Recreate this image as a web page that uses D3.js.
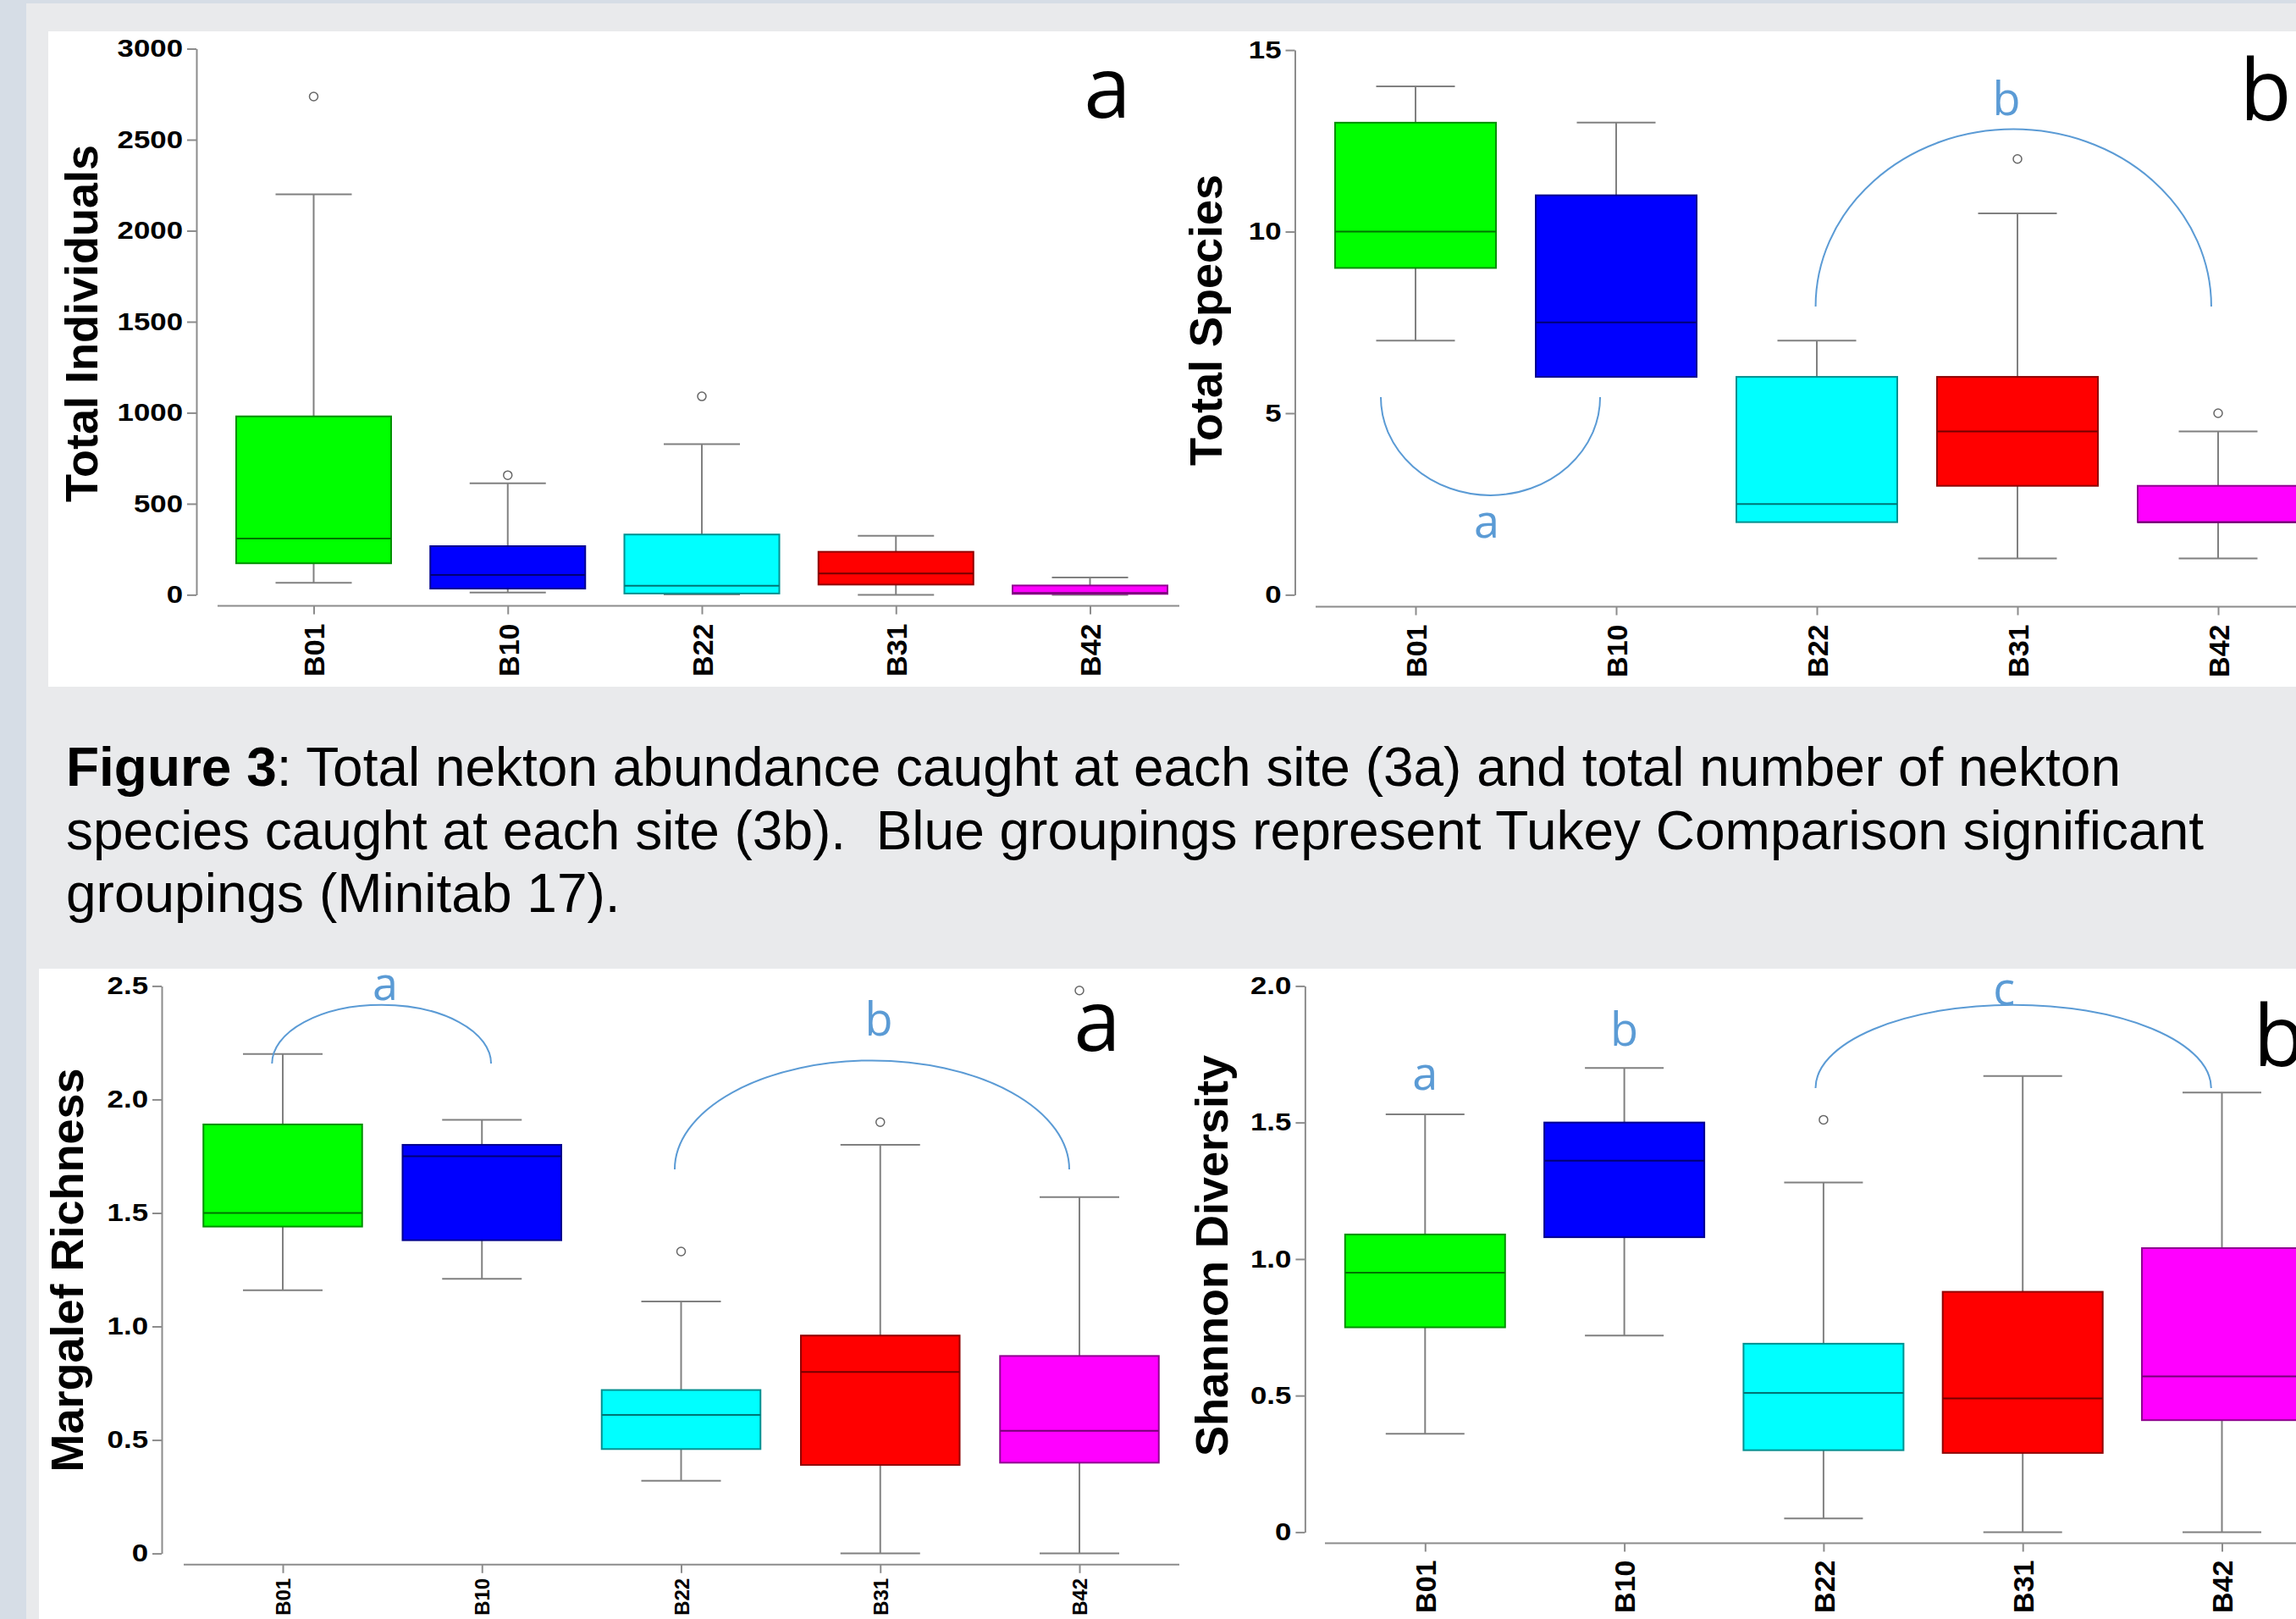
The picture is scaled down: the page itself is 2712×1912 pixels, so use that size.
<!DOCTYPE html>
<html>
<head>
<meta charset="utf-8">
<script src="https://d3js.org/d3.v7.min.js"></script>
<style>
  body { margin: 0; background: #e9eaec; }
  svg { display: block; }
  .axis path, .axis line { stroke: #8c8c8c; stroke-width: 2; fill: none; }
  .axis text { font-family: "Liberation Sans", Arial, sans-serif; font-weight: bold; fill: #000; }
  .ylabel { font-family: "Liberation Sans", Arial, sans-serif; font-weight: bold; font-size: 54px; fill: #000; }
  .caption { font-family: "Liberation Sans", Arial, sans-serif; font-size: 64px; fill: #000; white-space: pre; }
  .group { font-family: "Open Sans", sans-serif; font-size: 54px; fill: #5b9bd5; }
  .letter { font-family: "Open Sans", sans-serif; font-size: 100px; fill: #000; }
</style>
</head>
<body>
<script>
var sites = ["B01", "B10", "B22", "B31", "B42"];
var siteColors = ["#00ff00", "#0000ff", "#00ffff", "#ff0000", "#ff00ff"];

// rows: [min whisker, Q1, median, Q3, max whisker]
var abundance = [
  [66, 173, 309, 980, 2200],
  [12, 34, 109, 267, 613],
  [2, 7, 49, 331, 827],
  [0, 56, 117, 236, 324],
  [0, 5, 10, 51, 95]
];
var abundanceOutliers = [[2737], [657], [1090], [], []];
var abundanceTicks = [0, 500, 1000, 1500, 2000, 2500, 3000];
var abundanceTickLabels = ["0", "500", "1000", "1500", "2000", "2500", "3000"];

var species = [
  [7, 9, 10, 13, 14],
  [6, 6, 7.5, 11, 13],
  [2, 2, 2.5, 6, 7],
  [1, 3, 4.5, 6, 10.5],
  [1, 2, 2, 3, 4.5]
];
var speciesOutliers = [[], [], [], [12], [5]];
var speciesTicks = [0, 5, 10, 15];
var speciesTickLabels = ["0", "5", "10", "15"];

var margalef = [
  [1.16, 1.44, 1.50, 1.89, 2.20],
  [1.21, 1.38, 1.75, 1.80, 1.91],
  [0.32, 0.46, 0.61, 0.72, 1.11],
  [0, 0.39, 0.80, 0.96, 1.80],
  [0, 0.40, 0.54, 0.87, 1.57]
];
var margalefOutliers = [[], [], [1.33], [1.90], [2.48]];
var margalefTicks = [0, 0.5, 1.0, 1.5, 2.0, 2.5];
var margalefTickLabels = ["0", "0.5", "1.0", "1.5", "2.0", "2.5"];

var shannon = [
  [0.36, 0.75, 0.95, 1.09, 1.53],
  [0.72, 1.08, 1.36, 1.50, 1.70],
  [0.05, 0.30, 0.51, 0.69, 1.28],
  [0, 0.29, 0.49, 0.88, 1.67],
  [0, 0.41, 0.57, 1.04, 1.61]
];
var shannonOutliers = [[], [], [1.51], [], []];
var shannonTicks = [0, 0.5, 1.0, 1.5, 2.0];
var shannonTickLabels = ["0", "0.5", "1.0", "1.5", "2.0"];

// Tukey groupings: span in site-index units, y in data units
var speciesGroups = [
  {from: -0.173, to: 0.92, base: 5.44, peak: 2.74, label: "a", lx: 0.354, ly: 1.57},
  {from: 1.994, to: 3.966, base: 7.94, peak: 12.82, label: "b", lx: 2.945, ly: 13.2}
];
var margalefGroups = [
  {from: -0.054, to: 1.046, base: 2.158, peak: 2.417, label: "a", lx: 0.514, ly: 2.438},
  {from: 1.968, to: 3.949, base: 1.692, peak: 2.172, label: "b", lx: 2.993, ly: 2.281}
];
var shannonGroups = [
  {from: null, label: "a", lx: 0, ly: 1.62},
  {from: null, label: "b", lx: 1.0, ly: 1.781},
  {from: 1.96, to: 3.946, base: 1.626, peak: 1.931, label: "c", lx: 2.906, ly: 1.93}
];

var W = 2712, H = 1912;

var svg = d3.select("body").append("svg")
    .attr("width", W)
    .attr("height", H);

// page background
svg.append("rect").attr("width", W).attr("height", H).attr("fill", "#e9eaec");
svg.append("rect").attr("width", 31).attr("height", H).attr("fill", "#d6dde6");
svg.append("rect").attr("width", W).attr("height", 4).attr("fill", "#d6dde6");
svg.append("rect").attr("x", 57).attr("y", 37).attr("width", W - 57).attr("height", 774).attr("fill", "#fff");
svg.append("rect").attr("x", 46).attr("y", 1144).attr("width", W - 46).attr("height", H - 1144).attr("fill", "#fff");

var panels = [
  {stats: abundance, outliers: abundanceOutliers, ticks: abundanceTicks, tickLabels: abundanceTickLabels,
   groups: [], title: "Total Individuals", letter: "a",
   ymax: 3000, yAxisX: 232, y0: 702.4, y1: 57.5, xAxisY: 715.5, xLine: [257, 1393],
   c0: 370.5, c4: 1287.5, boxW: 183, capW: 90, xFont: 34, xOff: 21,
   labelX: 115, labelY: 382, letterX: 1308, letterY: 139},
  {stats: species, outliers: speciesOutliers, ticks: speciesTicks, tickLabels: speciesTickLabels,
   groups: speciesGroups, title: "Total Species", letter: "b",
   ymax: 15, yAxisX: 1529.5, y0: 702.4, y1: 59.1, xAxisY: 716.5, xLine: [1554, 2712],
   c0: 1672, c4: 2620, boxW: 190, capW: 93, xFont: 34, xOff: 21,
   labelX: 1443, labelY: 378, letterX: 2676, letterY: 142},
  {stats: margalef, outliers: margalefOutliers, ticks: margalefTicks, tickLabels: margalefTickLabels,
   groups: margalefGroups, title: "Margalef Richness", letter: "a",
   ymax: 2.5, yAxisX: 191, y0: 1834.6, y1: 1164.4, xAxisY: 1847.8, xLine: [217, 1393],
   c0: 334, c4: 1275, boxW: 187.5, capW: 94, xFont: 24, xOff: 16,
   labelX: 98, labelY: 1500, letterX: 1296, letterY: 1241},
  {stats: shannon, outliers: shannonOutliers, ticks: shannonTicks, tickLabels: shannonTickLabels,
   groups: shannonGroups, title: "Shannon Diversity", letter: "b",
   ymax: 2.0, yAxisX: 1541.4, y0: 1809.4, y1: 1164.4, xAxisY: 1822.5, xLine: [1565, 2712],
   c0: 1683.3, c4: 2624.5, boxW: 189, capW: 93, xFont: 34, xOff: 20,
   labelX: 1450, labelY: 1483, letterX: 2692, letterY: 1259}
];

panels.forEach(drawPanel);

function drawPanel(p) {
  var y = d3.scaleLinear().domain([0, p.ymax]).range([p.y0, p.y1]);
  var x = d3.scalePoint().domain(sites).range([p.c0, p.c4]);
  var xi = d3.scaleLinear().domain([0, sites.length - 1]).range([p.c0, p.c4]);
  var g = svg.append("g");

  // y axis, labels a bit wider than the plain font
  g.append("g")
      .attr("class", "axis")
      .attr("transform", "translate(" + p.yAxisX + ",0)")
      .call(d3.axisLeft(y)
          .tickValues(p.ticks)
          .tickFormat(function(d, i) { return p.tickLabels[i]; })
          .tickSize(11).tickPadding(5).tickSizeOuter(0))
      .selectAll("text")
        .style("font-size", "29px")
        .each(function() {
          var w = this.getComputedTextLength();
          d3.select(this).attr("textLength", w * 1.2).attr("lengthAdjust", "spacingAndGlyphs");
        });

  // x axis
  var xa = g.append("g")
      .attr("class", "axis")
      .attr("transform", "translate(0," + p.xAxisY + ")")
      .call(d3.axisBottom(x).tickSize(10).tickSizeOuter(0));
  xa.select(".domain").attr("d", "M" + p.xLine[0] + ",0H" + p.xLine[1]);
  xa.selectAll("text")
      .attr("transform", "rotate(-90)")
      .attr("x", -p.xOff)
      .attr("y", 0)
      .attr("dy", "0.36em")
      .style("text-anchor", "end")
      .style("font-size", p.xFont + "px");

  // y label
  g.append("text")
      .attr("class", "ylabel")
      .attr("transform", "translate(" + p.labelX + "," + p.labelY + ") rotate(-90)")
      .attr("text-anchor", "middle")
      .text(p.title);

  var box = g.selectAll(".box")
      .data(p.stats)
      .enter().append("g")
      .attr("class", "box");

  // whiskers
  box.each(function(s, i) {
    var b = d3.select(this), cx = x(sites[i]);
    if (s[4] > s[3]) {
      b.append("line").attr("x1", cx).attr("x2", cx).attr("y1", y(s[3])).attr("y2", y(s[4]));
      b.append("line").attr("x1", cx - p.capW / 2).attr("x2", cx + p.capW / 2).attr("y1", y(s[4])).attr("y2", y(s[4]));
    }
    if (s[0] < s[1]) {
      b.append("line").attr("x1", cx).attr("x2", cx).attr("y1", y(s[1])).attr("y2", y(s[0]));
      b.append("line").attr("x1", cx - p.capW / 2).attr("x2", cx + p.capW / 2).attr("y1", y(s[0])).attr("y2", y(s[0]));
    }
  });
  box.selectAll("line").attr("stroke", "#808080").attr("stroke-width", 2);

  box.append("rect")
      .attr("x", function(s, i) { return x(sites[i]) - p.boxW / 2; })
      .attr("y", function(s) { return y(s[3]); })
      .attr("width", p.boxW)
      .attr("height", function(s) { return y(s[1]) - y(s[3]); })
      .attr("fill", function(s, i) { return siteColors[i]; })
      .attr("stroke", function(s, i) { return d3.color(siteColors[i]).darker(1.6); })
      .attr("stroke-width", 2);

  box.append("line")
      .attr("x1", function(s, i) { return x(sites[i]) - p.boxW / 2; })
      .attr("x2", function(s, i) { return x(sites[i]) + p.boxW / 2; })
      .attr("y1", function(s) { return y(s[2]); })
      .attr("y2", function(s) { return y(s[2]); })
      .attr("stroke", function(s, i) { return d3.color(siteColors[i]).darker(2.2); })
      .attr("stroke-width", 2);

  // outliers
  p.outliers.forEach(function(list, i) {
    g.selectAll(null)
        .data(list)
        .enter().append("circle")
        .attr("cx", x(sites[i]))
        .attr("cy", function(d) { return y(d); })
        .attr("r", 5)
        .attr("fill", "none")
        .attr("stroke", "#666")
        .attr("stroke-width", 1.5);
  });

  // Tukey grouping arcs and letters
  p.groups.forEach(function(gr) {
    if (gr.from !== null) {
      var xa0 = xi(gr.from), xa1 = xi(gr.to);
      var yb = y(gr.base), yp = y(gr.peak);
      var rx = (xa1 - xa0) / 2, ry = Math.abs(yb - yp);
      var sweep = yp < yb ? 1 : 0;
      g.append("path")
          .attr("d", "M" + xa0 + "," + yb + "A" + rx + "," + ry + " 0 0 " + sweep + " " + xa1 + "," + yb)
          .attr("fill", "none")
          .attr("stroke", "#5b9bd5")
          .attr("stroke-width", 2);
    }
    g.append("text")
        .attr("class", "group")
        .attr("x", xi(gr.lx))
        .attr("y", y(gr.ly))
        .attr("text-anchor", "middle")
        .text(gr.label);
  });

  g.append("text")
      .attr("class", "letter")
      .attr("x", p.letterX)
      .attr("y", p.letterY)
      .attr("text-anchor", "middle")
      .text(p.letter);
}

// caption
var cap = svg.append("g");
var l1 = cap.append("text").attr("class", "caption").attr("x", 78).attr("y", 928)
    .attr("textLength", 2427).attr("lengthAdjust", "spacingAndGlyphs");
l1.append("tspan").style("font-weight", "bold").text("Figure 3");
l1.append("tspan").text(": Total nekton abundance caught at each site (3a) and total number of nekton");
cap.append("text").attr("class", "caption").attr("x", 78).attr("y", 1003)
    .attr("textLength", 2525).attr("lengthAdjust", "spacingAndGlyphs")
    .text("species caught at each site (3b).  Blue groupings represent Tukey Comparison significant");
cap.append("text").attr("class", "caption").attr("x", 78).attr("y", 1077)
    .text("groupings (Minitab 17).");
</script>
</body>
</html>
